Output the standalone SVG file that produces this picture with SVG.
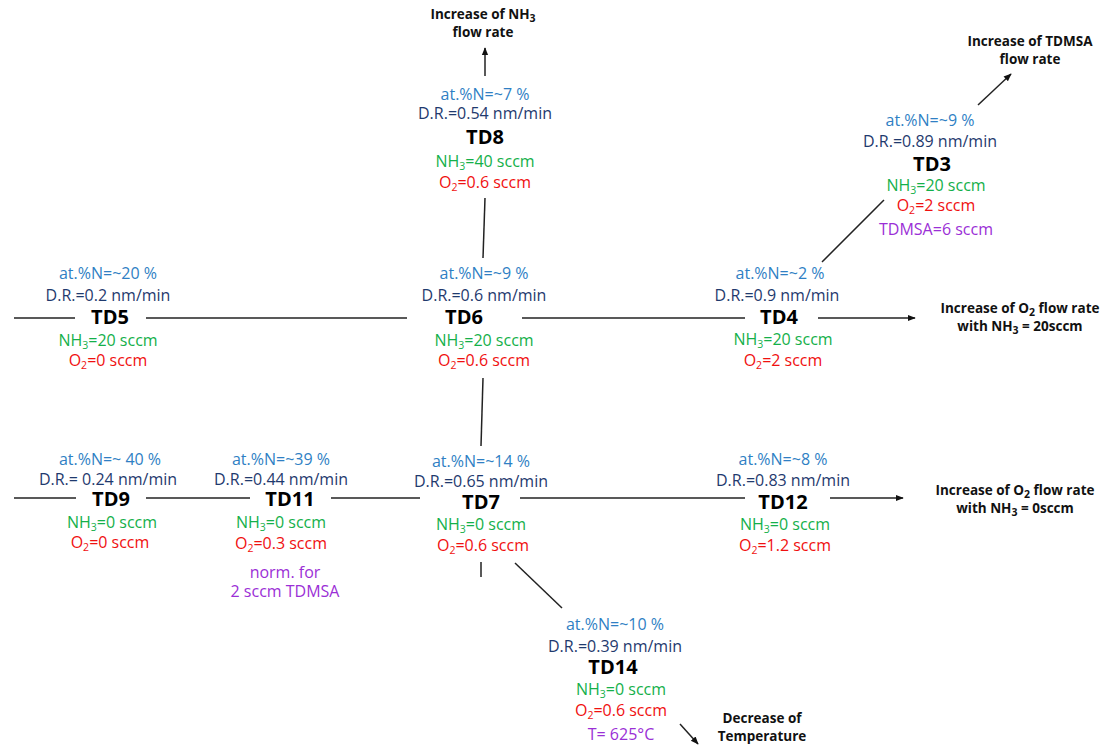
<svg xmlns="http://www.w3.org/2000/svg" width="1110" height="746" viewBox="0 0 1110 746">
<defs>
<style>
text{font-family:"Open Sans","Noto Sans",sans-serif;text-anchor:middle;font-size:16px}
.n{fill:#2f7fc4}
.d{fill:#1f3a6e}
.t{font-weight:bold;font-size:20px;fill:#000}
.g{fill:#14b04a}
.r{fill:#f01010}
.p{fill:#9b2fd6}
.l{font-weight:bold;font-size:13.5px;fill:#111}
.s{font-size:10.5px}
.c line{stroke:#222;stroke-width:1.5}
</style>
<marker id="ah" viewBox="0 0 10 10" refX="9" refY="5" markerWidth="8" markerHeight="8" orient="auto-start-reverse" markerUnits="userSpaceOnUse">
<path d="M0,1 L10,5 L0,9 Z" fill="#111"/>
</marker>
</defs>
<rect width="1110" height="746" fill="#fff"/>

<g class="c" id="connectors">
<line x1="485" y1="76" x2="485" y2="48" marker-end="url(#ah)"/>
<line x1="978" y1="105" x2="1011" y2="74" marker-end="url(#ah)"/>
<line x1="884" y1="200" x2="822" y2="262"/>
<line x1="485" y1="198" x2="483" y2="258"/>
<line x1="14" y1="318" x2="75" y2="318"/>
<line x1="146" y1="318" x2="407" y2="318"/>
<line x1="522" y1="318" x2="745" y2="318"/>
<line x1="818" y1="318" x2="915" y2="318" marker-end="url(#ah)"/>
<line x1="483" y1="378" x2="481" y2="446"/>
<line x1="14" y1="498" x2="76" y2="498"/>
<line x1="146" y1="498" x2="250" y2="498"/>
<line x1="331" y1="498" x2="420" y2="498"/>
<line x1="520" y1="498" x2="745" y2="498"/>
<line x1="830" y1="498" x2="903" y2="498" marker-end="url(#ah)"/>
<line x1="481" y1="562" x2="481" y2="577"/>
<line x1="515" y1="563" x2="562" y2="608"/>
<line x1="680" y1="724" x2="698" y2="744" marker-end="url(#ah)"/>
</g>

<g id="label-nh3">
<text class="l" x="483" y="19">Increase of NH<tspan class="s" dy="3">3</tspan></text>
<text class="l" x="483" y="37">flow rate</text>
</g>
<g id="label-tdmsa">
<text class="l" x="1030" y="46">Increase of TDMSA</text>
<text class="l" x="1030" y="64">flow rate</text>
</g>
<g id="label-o2-20">
<text class="l" x="1020" y="313">Increase of O<tspan class="s" dy="3">2</tspan><tspan dy="-3"> flow rate</tspan></text>
<text class="l" x="1020" y="331">with NH<tspan class="s" dy="3">3</tspan><tspan dy="-3"> = 20sccm</tspan></text>
</g>
<g id="label-o2-0">
<text class="l" x="1015" y="495">Increase of O<tspan class="s" dy="3">2</tspan><tspan dy="-3"> flow rate</tspan></text>
<text class="l" x="1015" y="513">with NH<tspan class="s" dy="3">3</tspan><tspan dy="-3"> = 0sccm</tspan></text>
</g>
<g id="label-temp">
<text class="l" x="762" y="723">Decrease of</text>
<text class="l" x="762" y="741">Temperature</text>
</g>

<g id="TD8">
<text class="n" x="485" y="100">at.%N=~7 %</text>
<text class="d" x="485" y="119">D.R.=0.54 nm/min</text>
<text class="t" x="485" y="144">TD8</text>
<text class="g" x="485" y="167">NH<tspan class="s" dy="3">3</tspan><tspan dy="-3">=40 sccm</tspan></text>
<text class="r" x="485" y="188">O<tspan class="s" dy="3">2</tspan><tspan dy="-3">=0.6 sccm</tspan></text>
</g>

<g id="TD3">
<text class="n" x="930" y="126">at.%N=~9 %</text>
<text class="d" x="930" y="147">D.R.=0.89 nm/min</text>
<text class="t" x="932" y="171">TD3</text>
<text class="g" x="936" y="191">NH<tspan class="s" dy="3">3</tspan><tspan dy="-3">=20 sccm</tspan></text>
<text class="r" x="936" y="211">O<tspan class="s" dy="3">2</tspan><tspan dy="-3">=2 sccm</tspan></text>
<text class="p" x="936" y="235">TDMSA=6 sccm</text>
</g>

<g id="TD5">
<text class="n" x="108" y="279">at.%N=~20 %</text>
<text class="d" x="108" y="301">D.R.=0.2 nm/min</text>
<text class="t" x="110" y="324">TD5</text>
<text class="g" x="108" y="346">NH<tspan class="s" dy="3">3</tspan><tspan dy="-3">=20 sccm</tspan></text>
<text class="r" x="108" y="366">O<tspan class="s" dy="3">2</tspan><tspan dy="-3">=0 sccm</tspan></text>
</g>

<g id="TD6">
<text class="n" x="484" y="279">at.%N=~9 %</text>
<text class="d" x="484" y="301">D.R.=0.6 nm/min</text>
<text class="t" x="464" y="324">TD6</text>
<text class="g" x="484" y="346">NH<tspan class="s" dy="3">3</tspan><tspan dy="-3">=20 sccm</tspan></text>
<text class="r" x="484" y="366">O<tspan class="s" dy="3">2</tspan><tspan dy="-3">=0.6 sccm</tspan></text>
</g>

<g id="TD4">
<text class="n" x="780" y="279">at.%N=~2 %</text>
<text class="d" x="777" y="301">D.R.=0.9 nm/min</text>
<text class="t" x="779" y="324">TD4</text>
<text class="g" x="783" y="345">NH<tspan class="s" dy="3">3</tspan><tspan dy="-3">=20 sccm</tspan></text>
<text class="r" x="783" y="366">O<tspan class="s" dy="3">2</tspan><tspan dy="-3">=2 sccm</tspan></text>
</g>

<g id="TD9">
<text class="n" x="110" y="465">at.%N=~ 40 %</text>
<text class="d" x="108" y="485">D.R.= 0.24 nm/min</text>
<text class="t" x="111" y="506">TD9</text>
<text class="g" x="112" y="528">NH<tspan class="s" dy="3">3</tspan><tspan dy="-3">=0 sccm</tspan></text>
<text class="r" x="110" y="548">O<tspan class="s" dy="3">2</tspan><tspan dy="-3">=0 sccm</tspan></text>
</g>

<g id="TD11">
<text class="n" x="281" y="465">at.%N=~39 %</text>
<text class="d" x="281" y="485">D.R.=0.44 nm/min</text>
<text class="t" x="290" y="506">TD11</text>
<text class="g" x="281" y="528">NH<tspan class="s" dy="3">3</tspan><tspan dy="-3">=0 sccm</tspan></text>
<text class="r" x="281" y="549">O<tspan class="s" dy="3">2</tspan><tspan dy="-3">=0.3 sccm</tspan></text>
<text class="p" x="285" y="578">norm. for</text>
<text class="p" x="285" y="597">2 sccm TDMSA</text>
</g>

<g id="TD7">
<text class="n" x="481" y="467">at.%N=~14 %</text>
<text class="d" x="481" y="487">D.R.=0.65 nm/min</text>
<text class="t" x="481" y="509">TD7</text>
<text class="g" x="481" y="530">NH<tspan class="s" dy="3">3</tspan><tspan dy="-3">=0 sccm</tspan></text>
<text class="r" x="483" y="551">O<tspan class="s" dy="3">2</tspan><tspan dy="-3">=0.6 sccm</tspan></text>
</g>

<g id="TD12">
<text class="n" x="783" y="465">at.%N=~8 %</text>
<text class="d" x="783" y="486">D.R.=0.83 nm/min</text>
<text class="t" x="783" y="509">TD12</text>
<text class="g" x="785" y="530">NH<tspan class="s" dy="3">3</tspan><tspan dy="-3">=0 sccm</tspan></text>
<text class="r" x="785" y="551">O<tspan class="s" dy="3">2</tspan><tspan dy="-3">=1.2 sccm</tspan></text>
</g>

<g id="TD14">
<text class="n" x="615" y="630">at.%N=~10 %</text>
<text class="d" x="615" y="652">D.R.=0.39 nm/min</text>
<text class="t" x="613" y="674">TD14</text>
<text class="g" x="621" y="695">NH<tspan class="s" dy="3">3</tspan><tspan dy="-3">=0 sccm</tspan></text>
<text class="r" x="621" y="716">O<tspan class="s" dy="3">2</tspan><tspan dy="-3">=0.6 sccm</tspan></text>
<text class="p" x="621" y="740">T= 625°C</text>
</g>
</svg>
